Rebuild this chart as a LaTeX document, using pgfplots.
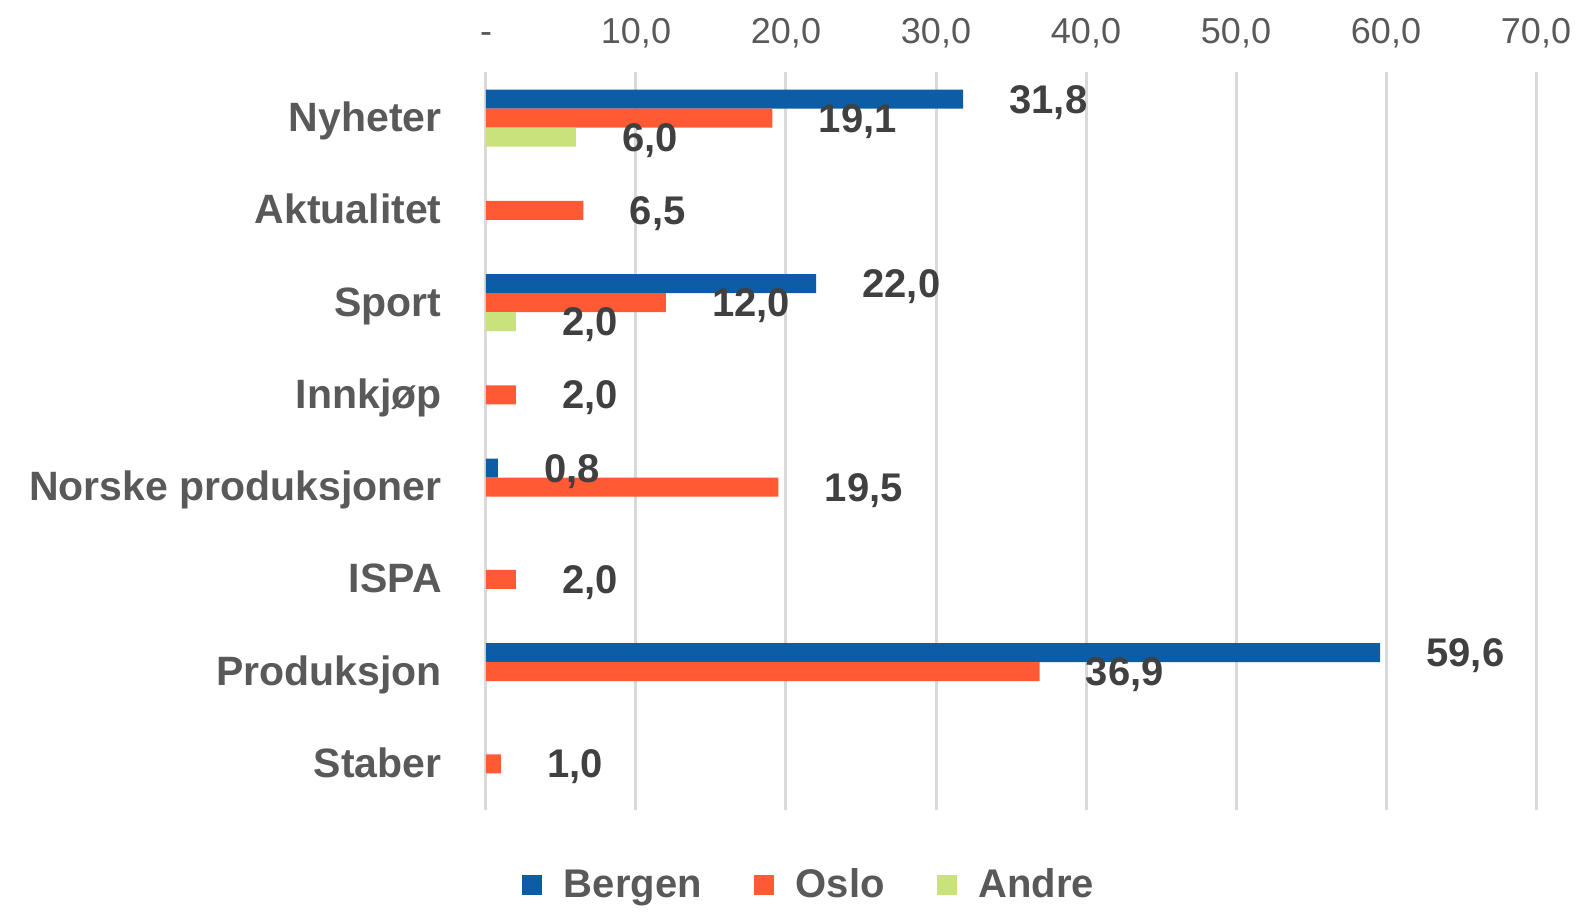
\documentclass[border=0pt]{standalone}
\usepackage{pgfplots}
\pgfplotsset{compat=1.18}
\usepackage{fontspec}
\setmainfont{Liberation Sans}
\definecolor{bergen}{HTML}{0C5DA5}
\definecolor{oslo}{HTML}{FF5A33}
\definecolor{andre}{HTML}{C9E27B}
\definecolor{gridc}{HTML}{D9D9D9}
\definecolor{txt}{HTML}{595959}
\definecolor{lab}{HTML}{404040}
\begin{document}
\begin{tikzpicture}
\useasboundingbox (-243pt,-53pt) rectangle (546pt,405pt);
\begin{axis}[
  scale only axis,
  width=525pt, height=369pt,
  xbar, bar width=9.5pt,
  xmin=0, xmax=70, ymin=-0.5, ymax=7.5,
  enlargelimits=false,
  clip=false,
  axis line style={draw=none},
  major tick length=0pt,
  xtick={0,10,...,70},
  xticklabels={-,{10,0},{20,0},{30,0},{40,0},{50,0},{60,0},{70,0}},
  xticklabel pos=right,
  xticklabel style={anchor=base, inner sep=0pt, yshift=14.5pt, font=\fontsize{18}{21}\selectfont, text=txt},
  ytick={0,...,7},
  yticklabels={Staber, Produksjon, ISPA, Norske produksjoner, Innkjøp, Sport, Aktualitet, Nyheter},
  yticklabel style={anchor=base east, inner sep=0pt, xshift=-22pt, yshift=-6.8pt, font=\fontsize{20.5}{24}\selectfont\bfseries, text=txt},
  xmajorgrids, ymajorgrids=false,
  major grid style={draw=gridc, line width=1.5pt},
  /pgf/number format/assume math mode=true,
  point meta=x,
  nodes near coords={\pgfmathprintnumber[fixed, fixed zerofill, precision=1, use comma]{\pgfplotspointmeta}},
  nodes near coords align={horizontal},
  every node near coord/.append style={anchor=west, inner sep=0pt, xshift=23pt, yshift=-1.5pt, font=\fontsize{20}{24}\selectfont\bfseries, text=lab},
  legend columns=-1,
  legend style={at={(rel axis cs:0.3067,-0.1016)}, anchor=center, draw=none, fill=none,
    font=\fontsize{20}{24}\selectfont\bfseries, text=txt, inner sep=0pt,
    nodes={inner sep=0pt},
    /tikz/every odd column/.append style={column sep=11pt},
    /tikz/every even column/.append style={column sep=26pt}},
  legend image code/.code={\fill[#1] (0pt,-5pt) rectangle (10pt,5pt);},
]
\addplot[fill=bergen, draw=none, bar shift=9.5pt] coordinates {(31.8,7) (22.0,5) (0.8,3) (59.6,1)};
\addplot[fill=oslo, draw=none, bar shift=0pt] coordinates {(19.1,7) (6.5,6) (12.0,5) (2.0,4) (19.5,3) (2.0,2) (36.9,1) (1.0,0)};
\addplot[fill=andre, draw=none, bar shift=-9.5pt] coordinates {(6.0,7) (2.0,5)};
\legend{Bergen, Oslo, Andre}
\end{axis}
\end{tikzpicture}
\end{document}
